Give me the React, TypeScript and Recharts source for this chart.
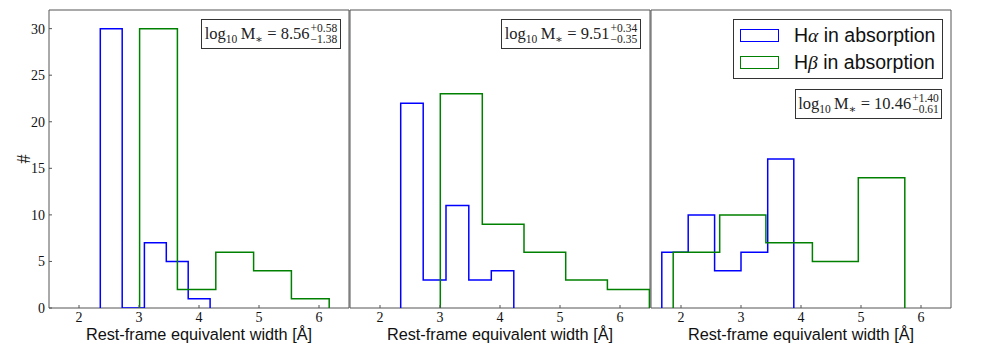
import React from 'react';
import { LineChart, Line, XAxis, YAxis, ReferenceArea, Legend } from 'recharts';

const X_DOMAIN: [number, number] = [1.5, 6.5];
const Y_DOMAIN: [number, number] = [0, 32];
const X_TICKS = [2, 3, 4, 5, 6];
const Y_TICKS = [0, 5, 10, 15, 20, 25, 30];

// bin edges and counts, one pair per mass bin
const haEdgesLow = [2.355, 2.72, 3.09, 3.455, 3.82, 4.185];
const haCountsLow = [30, 0, 7, 5, 1];
const hbEdgesLow = [3.01, 3.64, 4.28, 4.91, 5.54, 6.17];
const hbCountsLow = [30, 2, 6, 4, 1];

const haEdgesMid = [2.345, 2.72, 3.1, 3.48, 3.855, 4.23];
const haCountsMid = [22, 3, 11, 3, 4];
const hbEdgesMid = [3.005, 3.705, 4.4, 5.095, 5.79, 6.49];
const hbCountsMid = [23, 9, 6, 3, 2];

const haEdgesHigh = [1.68, 2.12, 2.56, 3.0, 3.445, 3.88];
const haCountsHigh = [6, 10, 4, 6, 16];
const hbEdgesHigh = [1.87, 2.645, 3.415, 4.19, 4.955, 5.73];
const hbCountsHigh = [6, 10, 7, 5, 14];

const massValues = ['8.56', '9.51', '10.46'];
const massPlus = ['+0.58', '+0.34', '+1.40'];
const massMinus = ['\u22121.38', '\u22120.35', '\u22120.61'];

const HA_NAME = 'H\u03b1 in absorption';
const HB_NAME = 'H\u03b2 in absorption';
const HA_COLOR = '#0000ff';
const HB_COLOR = '#008000';

const SPINE = '#555';
const SERIF = '"Liberation Serif", "DejaVu Serif", serif';
const SANS = '"Liberation Sans", Arial, sans-serif';

// outline of a step histogram: up at the first edge, across each bin, down at the last edge
function toSteps(edges: number[], counts: number[]) {
  const pts = [{ x: edges[0], y: 0 }];
  counts.forEach((c, i) => pts.push({ x: edges[i], y: c }));
  pts.push({ x: edges[edges.length - 1], y: 0 });
  return pts;
}

function renderLegend(props: any) {
  const payload = props.payload || [];
  return (
    <div
      style={{
        width: 210,
        height: 60,
        boxSizing: 'border-box',
        border: '1px solid #333',
        background: '#fff',
        position: 'relative',
      }}
    >
      {payload.map((entry: any, i: number) => {
        const name = String(entry.value);
        return (
          <div
            key={name}
            style={{
              position: 'absolute',
              left: 6,
              top: 2 + i * 26.5,
              height: 27,
              display: 'flex',
              alignItems: 'center',
              whiteSpace: 'nowrap',
            }}
          >
            <span
              style={{
                display: 'inline-block',
                width: 39,
                height: 13,
                boxSizing: 'border-box',
                border: `1.5px solid ${entry.color}`,
                marginRight: 15,
              }}
            />
            <span style={{ fontFamily: SANS, fontSize: 19.5, color: '#111' }}>
              {name[0]}
              <span style={{ fontFamily: SERIF, fontStyle: 'italic' }}>{name[1]}</span>
              {name.slice(2)}
            </span>
          </div>
        );
      })}
    </div>
  );
}

interface MassBoxProps {
  left: number;
  top: number;
  width: number;
  value: string;
  plus: string;
  minus: string;
}

function MassBox({ left, top, width, value, plus, minus }: MassBoxProps) {
  return (
    <div
      style={{
        position: 'absolute',
        left,
        top,
        width,
        height: 30,
        boxSizing: 'border-box',
        border: '1px solid #333',
        background: '#fff',
        display: 'flex',
        alignItems: 'center',
        justifyContent: 'center',
        fontFamily: SERIF,
        fontSize: 16.5,
        color: '#222',
        whiteSpace: 'nowrap',
        lineHeight: '16px',
      }}
    >
      <span>
        log
        <span style={{ fontSize: 11.5, position: 'relative', top: 4 }}>10</span>
        {'\u2009M'}
        <span style={{ fontSize: 11.5, position: 'relative', top: 4 }}>{'\u2217'}</span>
        {` = ${value}`}
      </span>
      <span
        style={{
          display: 'inline-flex',
          flexDirection: 'column',
          fontSize: 11.5,
          lineHeight: '11px',
          marginLeft: 1,
        }}
      >
        <span>{plus}</span>
        <span>{minus}</span>
      </span>
    </div>
  );
}

interface PanelProps {
  left: number;
  first?: boolean;
  legend?: boolean;
  haEdges: number[];
  haCounts: number[];
  hbEdges: number[];
  hbCounts: number[];
}

function Panel({ left, first, legend, haEdges, haCounts, hbEdges, hbCounts }: PanelProps) {
  const yWidth = first ? 49 : 1;
  const tickLine = { stroke: SPINE };
  return (
    <div style={{ position: 'absolute', left, top: 0 }}>
      <LineChart
        width={yWidth + 300 + 2}
        height={343}
        margin={{ top: 9, right: 1, left: 0, bottom: 0 }}
      >
        <XAxis
          dataKey="x"
          type="number"
          domain={X_DOMAIN}
          ticks={X_TICKS}
          allowDataOverflow
          height={35}
          axisLine={false}
          tickLine={tickLine}
          tickSize={-3}
          tickMargin={7}
          tick={{ fill: '#111', fontSize: 14, fontFamily: SERIF }}
          label={{
            value: 'Rest-frame equivalent width [\u00c5]',
            position: 'insideBottom',
            offset: 3,
            fill: '#111',
            fontSize: 16.3,
            fontFamily: SANS,
          }}
        />
        <XAxis
          xAxisId="t"
          orientation="top"
          dataKey="x"
          type="number"
          domain={X_DOMAIN}
          ticks={X_TICKS}
          allowDataOverflow
          height={1}
          axisLine={false}
          tickLine={tickLine}
          tickSize={-3}
          tick={false}
        />
        <YAxis
          type="number"
          domain={Y_DOMAIN}
          ticks={Y_TICKS}
          allowDataOverflow
          width={yWidth}
          axisLine={false}
          tickLine={tickLine}
          tickSize={-3}
          tickMargin={7}
          tick={first ? { fill: '#111', fontSize: 14, fontFamily: SERIF } : false}
          label={
            first
              ? {
                  value: '#',
                  angle: -90,
                  position: 'center',
                  dx: -1,
                  fill: '#222',
                  fontSize: 18,
                  fontFamily: SERIF,
                }
              : undefined
          }
        />
        <YAxis
          yAxisId="r"
          orientation="right"
          type="number"
          domain={Y_DOMAIN}
          ticks={Y_TICKS}
          allowDataOverflow
          width={1}
          axisLine={false}
          tickLine={tickLine}
          tickSize={-3}
          tick={false}
        />
        <Line
          data={toSteps(haEdges, haCounts)}
          dataKey="y"
          name={HA_NAME}
          type="stepAfter"
          stroke={HA_COLOR}
          strokeWidth={1.5}
          dot={false}
          activeDot={false}
          isAnimationActive={false}
        />
        <Line
          data={toSteps(hbEdges, hbCounts)}
          dataKey="y"
          name={HB_NAME}
          type="stepAfter"
          stroke={HB_COLOR}
          strokeWidth={1.5}
          dot={false}
          activeDot={false}
          isAnimationActive={false}
        />
        <ReferenceArea
          x1={X_DOMAIN[0]}
          x2={X_DOMAIN[1]}
          y1={Y_DOMAIN[0]}
          y2={Y_DOMAIN[1]}
          fill="none"
          stroke={SPINE}
          strokeWidth={1}
          ifOverflow="visible"
        />
        {legend && (
          <Legend
            layout="horizontal"
            verticalAlign="middle"
            align="center"
            content={renderLegend}
            wrapperStyle={{ left: 83, top: 19, width: 210, height: 60 }}
          />
        )}
      </LineChart>
    </div>
  );
}

export default function App() {
  return (
    <div
      style={{
        position: 'absolute',
        left: 0,
        top: 0,
        width: 981,
        height: 343,
        background: '#fff',
        overflow: 'hidden',
      }}
    >
      <Panel left={0} first haEdges={haEdgesLow} haCounts={haCountsLow} hbEdges={hbEdgesLow} hbCounts={hbCountsLow} />
      <Panel left={349} haEdges={haEdgesMid} haCounts={haCountsMid} hbEdges={hbEdgesMid} hbCounts={hbCountsMid} />
      <Panel left={650} legend haEdges={haEdgesHigh} haCounts={haCountsHigh} hbEdges={hbEdgesHigh} hbCounts={hbCountsHigh} />
      <MassBox left={201} top={19} width={140} value={massValues[0]} plus={massPlus[0]} minus={massMinus[0]} />
      <MassBox left={501} top={19} width={140} value={massValues[1]} plus={massPlus[1]} minus={massMinus[1]} />
      <MassBox left={795} top={89} width={147} value={massValues[2]} plus={massPlus[2]} minus={massMinus[2]} />
    </div>
  );
}
